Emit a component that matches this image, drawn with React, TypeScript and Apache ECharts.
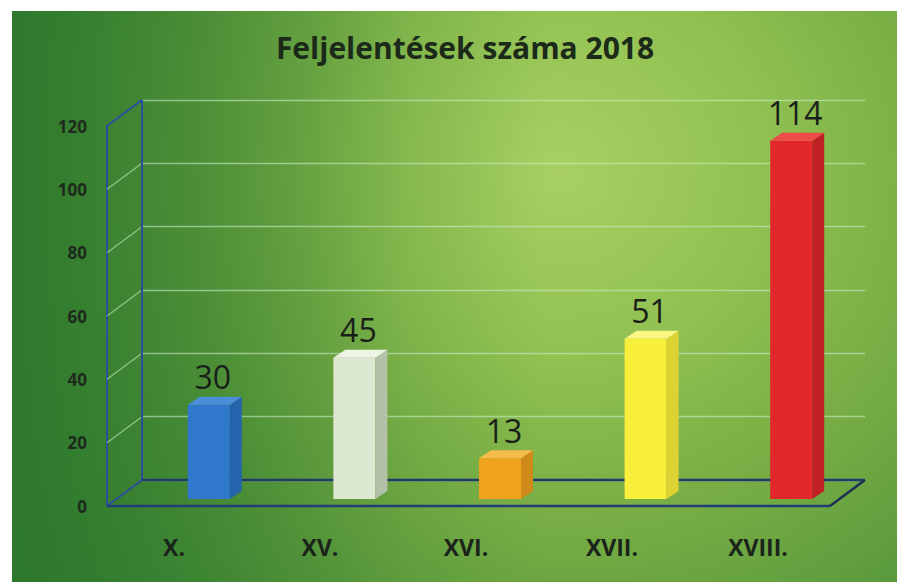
import React, { useEffect, useRef } from "react";
import * as echarts from "echarts";

const title = "Feljelentések száma 2018";
const categories = ["X.", "XV.", "XVI.", "XVII.", "XVIII."];
const values = [30, 45, 13, 51, 114];
const yTicks = [0, 20, 40, 60, 80, 100, 120];

const frontColors = ["#2f78cc", "#dde8d2", "#f0a21f", "#f8ef3a", "#e2282b"];
const sideColors = ["#2465ad", "#b3c1a6", "#d08a1a", "#dcd232", "#bf2024"];
const topColors = ["#4a8ed9", "#eef4e4", "#f7bb4c", "#fbf583", "#ef4b48"];

const DX = -35; // back wall -> front plane offset
const DY = 26;
const FONT = "'Open Sans', 'Liberation Sans', sans-serif";

export default function App() {
  const ref = useRef<HTMLDivElement>(null);
  useEffect(() => {
    const chart = echarts.init(ref.current!, null, { renderer: "svg" });
    const option: any = {
      animation: false,
      backgroundColor: "transparent",
      title: {
        text: title,
        left: 460,
        top: 27,
        textAlign: "center",
        textStyle: { fontFamily: FONT, fontSize: 30, fontWeight: "bold", color: "#1c2a1a" },
      },
      grid: [
        { left: 142, top: 100, width: 723, height: 380 }, // back wall
        { left: 107, top: 126, width: 723, height: 380 }, // front plane (y labels)
        { left: 136, top: 122, width: 728, height: 377 }, // bars
        { left: 101, top: 126, width: 730, height: 380 }, // category labels
      ],
      xAxis: [0, 1, 2, 3].map((g) => ({
        type: "category",
        gridIndex: g,
        data: categories,
        show: g === 3,
        axisLine: { show: false },
        axisTick: { show: false },
        axisLabel: {
          show: g === 3,
          margin: 29,
          fontFamily: FONT,
          fontSize: 23,
          fontWeight: "bold",
          color: "#1b241b",
        },
      })),
      yAxis: [0, 1, 2, 3].map((g) => ({
        type: "value",
        gridIndex: g,
        min: 0,
        max: 120,
        interval: 20,
        show: g === 0 || g === 1,
        axisLine: g === 1 ? { show: true, lineStyle: { color: "#2c4f9c", width: 2 } } : { show: false },
        axisTick: { show: false },
        axisLabel:
          g === 1
            ? { show: true, margin: 20, fontFamily: FONT, fontSize: 17, fontWeight: "bold", color: "#1d2a1d" }
            : { show: false },
        splitLine:
          g === 0
            ? { show: true, lineStyle: { color: "rgba(200,235,200,0.6)", width: 1.3 } }
            : { show: false },
      })),
      series: [
        {
          // left wall diagonals for each tick
          type: "custom",
          xAxisIndex: 0,
          yAxisIndex: 0,
          data: yTicks.map((v) => [0, v]),
          silent: true,
          z: 1,
          renderItem: (params: any, api: any) => {
            const cs = params.coordSys;
            const v = api.value(1);
            const y = api.coord([0, v])[1];
            const edge = v === 0 || v === 120;
            return {
              type: "line",
              shape: { x1: cs.x, y1: y, x2: cs.x + DX, y2: y + DY },
              style: {
                stroke: edge ? "#2c4f9c" : "rgba(200,235,200,0.6)",
                lineWidth: edge ? 2 : 1.3,
              },
            };
          },
        },
        {
          // back wall vertical, floor edges
          type: "custom",
          xAxisIndex: 0,
          yAxisIndex: 0,
          data: [[0, 0]],
          silent: true,
          z: 1,
          renderItem: (params: any) => {
            const cs = params.coordSys;
            const x0 = cs.x;
            const y0 = cs.y;
            const x1 = cs.x + cs.width;
            const yb = cs.y + cs.height;
            return {
              type: "group",
              children: [
                { type: "line", shape: { x1: x0, y1: y0, x2: x0, y2: yb }, style: { stroke: "#2c4f9c", lineWidth: 2 } },
                { type: "line", shape: { x1: x0, y1: yb, x2: x1, y2: yb }, style: { stroke: "#203a6e", lineWidth: 2.5 } },
                { type: "line", shape: { x1: x1, y1: yb, x2: x1 + DX, y2: yb + DY }, style: { stroke: "#1d2f55", lineWidth: 2.5 } },
                { type: "line", shape: { x1: x0 + DX, y1: yb + DY, x2: x1 + DX, y2: yb + DY }, style: { stroke: "#223d78", lineWidth: 2.5 } },
              ],
            };
          },
        },
        {
          type: "custom",
          xAxisIndex: 2,
          yAxisIndex: 2,
          data: values.map((v, i) => [i, v]),
          encode: { x: 0, y: 1 },
          z: 5,
          renderItem: (params: any, api: any) => {
            const i = params.dataIndex;
            const v = api.value(1);
            const top = api.coord([i, v]);
            const base = api.coord([i, 0]);
            const hw = 21;
            const dx = 12;
            const dy = -8;
            const l = top[0] - hw;
            const r = top[0] + hw;
            const t = top[1];
            const b = base[1];
            return {
              type: "group",
              children: [
                { type: "rect", shape: { x: l, y: t, width: r - l, height: b - t }, style: { fill: frontColors[i] } },
                {
                  type: "polygon",
                  shape: { points: [[r, t], [r + dx, t + dy], [r + dx, b + dy], [r, b]] },
                  style: { fill: sideColors[i] },
                },
                {
                  type: "polygon",
                  shape: { points: [[l, t], [l + dx, t + dy], [r + dx, t + dy], [r, t]] },
                  style: { fill: topColors[i] },
                },
                {
                  type: "text",
                  style: {
                    text: String(v),
                    x: top[0] + 4,
                    y: t - 28,
                    align: "center",
                    verticalAlign: "middle",
                    fontFamily: FONT,
                    fontSize: 32,
                    fill: "#1a1f1a",
                  },
                },
              ],
            };
          },
        },
      ],
    };
    chart.setOption(option);
    return () => chart.dispose();
  }, []);
  return (
    <div style={{ position: "fixed", left: 0, top: 0, width: 897, height: 582, background: "#ffffff", overflow: "hidden" }}>
      <div
        style={{
          position: "absolute",
          left: 12,
          top: 11,
          width: 885,
          height: 571,
          background:
            "linear-gradient(to right, rgba(42,118,44,0.9) 0%, rgba(42,118,44,0.55) 22%, rgba(42,118,44,0.15) 45%, rgba(42,118,44,0) 60%), " +
            "radial-gradient(ellipse 80% 115% at 62% 28%, #a8d062 0%, #8fc050 30%, #76ac44 55%, #5a9a3d 78%, #3f8634 100%)",
        }}
      />
      <div ref={ref} style={{ position: "absolute", left: 0, top: 0, width: 897, height: 582 }} />
    </div>
  );
}
